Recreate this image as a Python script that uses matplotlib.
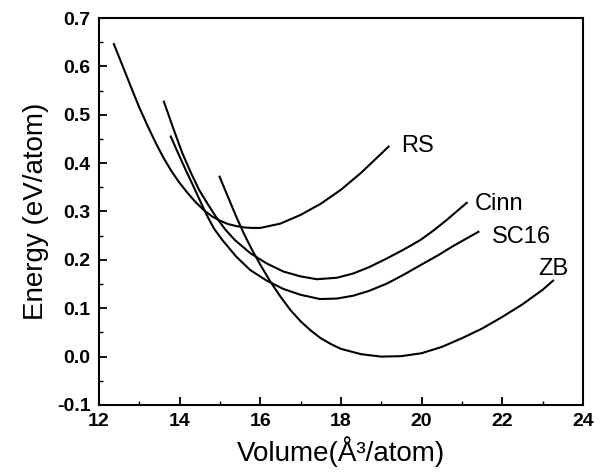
import matplotlib
matplotlib.use("Agg")
import matplotlib.pyplot as plt
from matplotlib.ticker import MultipleLocator, FormatStrFormatter

plt.rcParams['font.family'] = ['Liberation Sans', 'DejaVu Sans']
plt.rcParams['axes.unicode_minus'] = False

# energy-volume curves
rs_vol = [12.37, 12.6, 12.8, 13.0, 13.2, 13.4, 13.6, 13.8, 14.0, 14.2, 14.4, 14.6, 14.8, 15.0, 15.2,
          15.4, 15.6, 15.8, 16.0, 16.5, 17.0, 17.5, 18.0, 18.5, 19.18]
rs_en = [0.646, 0.598, 0.556, 0.515, 0.478, 0.443, 0.411, 0.383, 0.359, 0.338, 0.319, 0.303, 0.290, 0.281, 0.274,
         0.270, 0.267, 0.266, 0.266, 0.275, 0.293, 0.316, 0.345, 0.380, 0.434]

cinn_vol = [13.61, 13.85, 14.07, 14.28, 14.48, 14.70, 14.90, 15.13, 15.37, 15.75, 16.15, 16.57, 16.99, 17.40,
            17.9, 18.31, 18.7, 19.14, 19.55, 19.97, 20.3, 20.63, 21.12]
cinn_en = [0.527, 0.470, 0.420, 0.380, 0.345, 0.315, 0.289, 0.263, 0.241, 0.214, 0.193, 0.176, 0.166, 0.160,
           0.163, 0.172, 0.185, 0.203, 0.221, 0.241, 0.261, 0.283, 0.318]

sc16_vol = [13.78, 13.97, 14.15, 14.32, 14.48, 14.67, 14.85, 15.04, 15.4, 15.75, 16.16, 16.57, 16.99, 17.48,
            17.9, 18.31, 18.7, 19.14, 19.55, 19.97, 20.4, 20.79, 21.41]
sc16_en = [0.455, 0.419, 0.386, 0.356, 0.327, 0.293, 0.265, 0.243, 0.207, 0.179, 0.157, 0.140, 0.128, 0.119,
           0.120, 0.126, 0.136, 0.151, 0.169, 0.189, 0.209, 0.229, 0.258]

zb_vol = [14.99, 15.2, 15.4, 15.6, 15.8, 16.0, 16.25, 16.5, 16.75, 17.0, 17.25, 17.5, 17.75, 18.0, 18.5,
          19.0, 19.5, 20.0, 20.5, 21.0, 21.5, 22.0, 22.5, 23.0, 23.26]
zb_en = [0.372, 0.330, 0.290, 0.253, 0.220, 0.190, 0.155, 0.124, 0.096, 0.073, 0.054, 0.038, 0.026, 0.016, 0.005,
         0.000, 0.001, 0.007, 0.020, 0.038, 0.058, 0.082, 0.108, 0.138, 0.157]

labels = ['RS', 'Cinn', 'SC16', 'ZB']
label_x = [19.50, 21.33, 21.74, 22.90]
label_y = [0.424, 0.303, 0.235, 0.169]

fig = plt.figure(figsize=(6.11, 4.75), dpi=100)
ax = fig.add_axes([0.162, 0.1474, 0.792, 0.8147])

for v, e in [(rs_vol, rs_en), (cinn_vol, cinn_en), (sc16_vol, sc16_en), (zb_vol, zb_en)]:
    ax.plot(v, e, color='black', lw=1.5, solid_joinstyle='round')

for name, tx, ty in zip(labels, label_x, label_y):
    ax.text(tx, ty, name, fontsize=17, va='baseline', ha='left')

ax.set_xlim(12, 24)
ax.set_ylim(-0.1, 0.7)
ax.xaxis.set_major_locator(MultipleLocator(2))
ax.xaxis.set_minor_locator(MultipleLocator(1))
ax.yaxis.set_major_locator(MultipleLocator(0.1))
ax.yaxis.set_minor_locator(MultipleLocator(0.05))
ax.yaxis.set_major_formatter(FormatStrFormatter('%.1f'))

ax.tick_params(which='major', direction='in', length=6, width=1.3, labelsize=14, pad=6)
ax.tick_params(which='minor', direction='in', length=3, width=1.0)
for lbl in ax.get_xticklabels() + ax.get_yticklabels():
    lbl.set_fontweight('bold')
for sp in ax.spines.values():
    sp.set_linewidth(1.5)

ax.set_xlabel('Volume(Å³/atom)', fontsize=20, labelpad=4)
ax.set_ylabel('Energy (eV/atom)', fontsize=20, labelpad=6)

fig.savefig('out.png', dpi=100)
